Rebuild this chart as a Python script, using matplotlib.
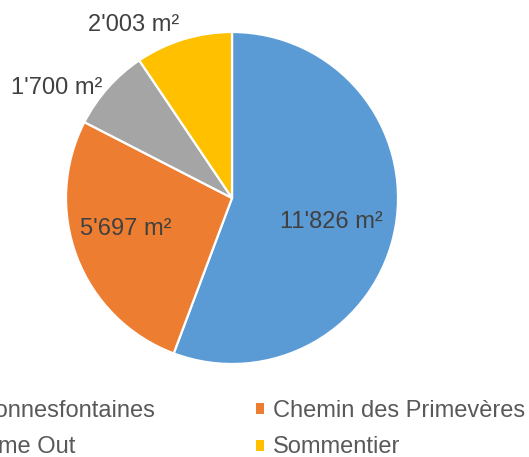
import numpy as np
import matplotlib
matplotlib.use("Agg")
import matplotlib.pyplot as plt
from matplotlib.patches import Rectangle

plt.rcParams['font.family'] = ['Liberation Sans', 'DejaVu Sans']

# data
sites = ['Bonnesfontaines', 'Chemin des Primevères', 'Time Out', 'Sommentier']
areas = [11826, 5697, 1700, 2003]
colors = ['#5B9BD5', '#ED7D31', '#A5A5A5', '#FFC000']
labels = ["11'826 m²", "5'697 m²", "1'700 m²", "2'003 m²"]

# label placement (radius fraction, angle in degrees)
label_pos = [(0.614, -13.6), (0.665, -163.7), (1.245, 147.8), (1.20, 119.7)]

fig = plt.figure(figsize=(5.29, 4.57), dpi=100)
ax = fig.add_axes([0.1248, 0.2035, 0.6276, 0.7265])
wedges, _ = ax.pie(areas, colors=colors, startangle=90, counterclock=False,
                   radius=1, wedgeprops=dict(edgecolor='white', linewidth=1.6))
ax.set_xlim(-1, 1)
ax.set_ylim(-1, 1)
ax.set_aspect('equal')
ax.axis('off')

for lab, (r, a) in zip(labels, label_pos):
    t = np.deg2rad(a)
    ax.text(r * np.cos(t), r * np.sin(t), lab, ha='center', va='center',
            fontsize=17, color='#404040')

# legend rows: Bonnesfontaines / Chemin..., Time Out / Sommentier
# (the reference image is cropped on the left, so the first column runs off the edge)
order = [0, 2, 1, 3]
handles = [Rectangle((0, 0), 1, 1, facecolor=colors[i]) for i in order]
leg = fig.legend(handles, [sites[i] for i in order], ncol=2,
                 loc='upper left', bbox_to_anchor=(-0.0723, 0.124),
                 frameon=False, fontsize=17, handlelength=0.34, handleheight=0.34,
                 handletextpad=0.38, columnspacing=4.28, labelspacing=0.6,
                 borderpad=0, borderaxespad=0)
for txt in leg.get_texts():
    txt.set_color('#595959')

fig.savefig('out.png', dpi=100)
